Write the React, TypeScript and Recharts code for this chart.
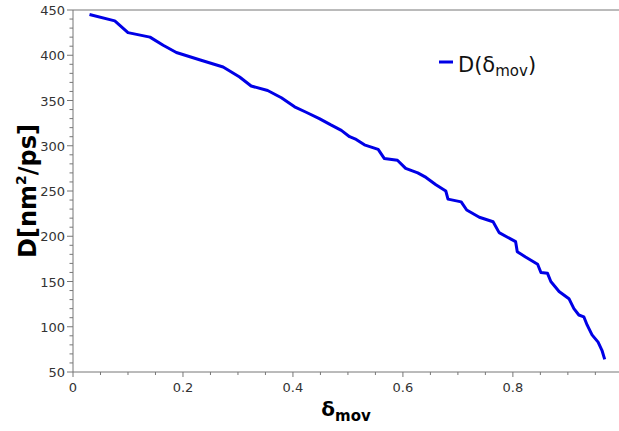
import React from 'react';
import { LineChart, Line, XAxis, YAxis, ReferenceLine, Legend } from 'recharts';

// values
const deltaMov = [
  0.03, 0.076, 0.1, 0.14, 0.164, 0.188, 0.23, 0.273, 0.303, 0.324, 0.354, 0.379,
  0.403, 0.424, 0.448, 0.469, 0.488, 0.503, 0.515, 0.53, 0.555, 0.566, 0.59,
  0.605, 0.627, 0.642, 0.66, 0.678, 0.682, 0.706, 0.716, 0.739, 0.764, 0.775,
  0.805, 0.808, 0.823, 0.845, 0.851, 0.863, 0.869, 0.884, 0.902, 0.911, 0.92,
  0.929, 0.935, 0.944, 0.955, 0.962, 0.967,
];
const diffusion = [
  445, 438, 425, 420, 411, 403, 395, 387, 376, 366, 361, 353,
  343, 337, 330, 323, 317, 310, 307, 301, 296, 286, 284,
  275, 270, 265, 257, 250, 241, 238, 229, 221, 216, 204,
  194, 183, 177, 169, 160, 159, 150, 139, 131, 120, 113,
  111, 102, 91, 83, 74, 64,
];

const xMajorTicks = [0, 0.2, 0.4, 0.6, 0.8];
const xMinorTicks = [0.05, 0.1, 0.15, 0.25, 0.3, 0.35, 0.45, 0.5, 0.55, 0.65, 0.7, 0.75, 0.85, 0.9, 0.95];
const yMajorTicks = [50, 100, 150, 200, 250, 300, 350, 400, 450];
const yMinorTicks = [
  60, 70, 80, 90, 110, 120, 130, 140, 160, 170, 180, 190, 210, 220, 230, 240,
  260, 270, 280, 290, 310, 320, 330, 340, 360, 370, 380, 390, 410, 420, 430, 440,
];

const data = deltaMov.map((x, i) => ({ x, y: diffusion[i] }));

const FONT = '"DejaVu Sans", Verdana, sans-serif';
const AXIS = '#777';
const BLUE = '#0000e6';

const XTick = (props: any) => {
  const { x, y, payload } = props;
  const major = xMajorTicks.includes(payload.value);
  return (
    <g>
      <line x1={x} x2={x} y1={y} y2={y + (major ? 5 : 3)} stroke={AXIS} />
      {major && (
        <text x={x} y={y + 20} textAnchor="middle" fontSize={13} fontFamily={FONT} fill="#333">
          {payload.value}
        </text>
      )}
    </g>
  );
};

const YTick = (props: any) => {
  const { x, y, payload } = props;
  const major = yMajorTicks.includes(payload.value);
  return (
    <g>
      <line x1={x} x2={x - (major ? 6 : 3.5)} y1={y} y2={y} stroke={AXIS} />
      {major && (
        <text x={x - 8} y={y + 5} textAnchor="end" fontSize={13} fontFamily={FONT} fill="#333">
          {payload.value}
        </text>
      )}
    </g>
  );
};

const XLabel = (props: any) => {
  const vb = props.viewBox;
  return (
    <text x={vb.x + vb.width / 2} y={vb.y + 44} textAnchor="middle" fontFamily={FONT} fontWeight="bold" fill="#000">
      <tspan fontSize={20}>δ</tspan>
      <tspan fontSize={15} dy={5}>mov</tspan>
    </text>
  );
};

const YLabel = (props: any) => {
  const vb = props.viewBox;
  const cx = vb.x + 36;
  const cy = vb.y + vb.height / 2;
  return (
    <text x={cx} y={cy} transform={`rotate(-90 ${cx} ${cy})`} textAnchor="middle" fontFamily={FONT} fontWeight="bold" fontSize={24} fill="#000">
      <tspan>D[nm</tspan>
      <tspan fontSize={14} dy={-10}>2</tspan>
      <tspan dy={10}>/ps]</tspan>
    </text>
  );
};

const LegendBox = () => (
  <svg width={120} height={40}>
    <line x1={2} x2={16} y1={22} y2={22} stroke={BLUE} strokeWidth={3} />
    <text x={21} y={32} fontFamily={FONT} fontSize={21} fill="#111">
      <tspan>D(δ</tspan>
      <tspan fontSize={15} dy={4}>mov</tspan>
      <tspan dy={-4}>)</tspan>
    </text>
  </svg>
);

export default function App() {
  return (
    <div style={{ position: 'absolute', left: 0, top: 0 }}>
      <LineChart width={619} height={431} data={data} margin={{ top: 10, right: 0, bottom: 0, left: 0 }}>
        <XAxis
          type="number"
          dataKey="x"
          domain={[0, 0.993]}
          ticks={[...xMajorTicks, ...xMinorTicks].sort((a, b) => a - b)}
          interval={0}
          tickSize={0}
          tickMargin={0}
          tickLine={false}
          tick={XTick}
          height={59}
          stroke={AXIS}
          label={{ content: XLabel }}
        />
        <YAxis
          type="number"
          domain={[50, 450]}
          ticks={[...yMajorTicks, ...yMinorTicks].sort((a, b) => a - b)}
          interval={0}
          tickSize={0}
          tickMargin={0}
          tickLine={false}
          tick={YTick}
          width={73}
          stroke={AXIS}
          label={{ content: YLabel }}
        />
        <ReferenceLine y={450} stroke={AXIS} />
        <Legend
          layout="horizontal"
          verticalAlign="middle"
          align="center"
          content={LegendBox}
          wrapperStyle={{ position: 'absolute', left: 437, top: 40, width: 120, height: 40 }}
        />
        <Line
          type="linear"
          dataKey="y"
          name="D(δmov)"
          stroke={BLUE}
          strokeWidth={3}
          strokeLinejoin="round"
          dot={false}
          isAnimationActive={false}
        />
      </LineChart>
    </div>
  );
}
